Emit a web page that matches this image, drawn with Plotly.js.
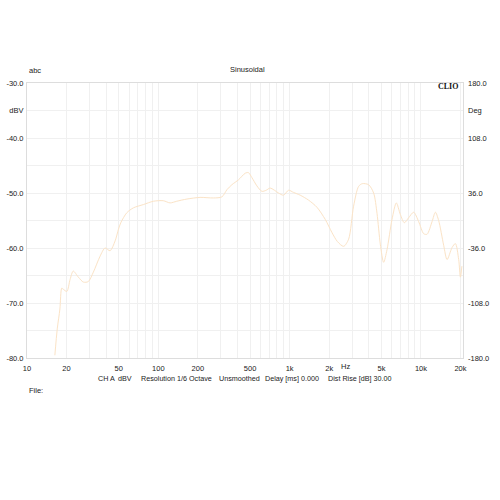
<!DOCTYPE html>
<html>
<head>
<meta charset="utf-8">
<script src="https://cdn.plot.ly/plotly-3.0.1.min.js"></script>
<style>html,body{margin:0;padding:0;background:#fff;}#chart{width:500px;height:500px;}</style>
</head>
<body>
<div id="chart"></div>
<script>
// Frequency response (Hz, dBV)
const freqHz = [16.3, 17.0, 17.8, 18.4, 18.9, 20.1, 21.3, 22.5, 24.6, 26.9, 29.3, 32.0, 36.0, 39.3, 42.9, 46.9, 49.7, 51.8, 57.5, 64.6, 77.0, 91.8, 109, 123, 138, 165, 208, 263, 305, 333, 363, 408, 459, 486, 516, 563, 615, 663, 711, 823, 899, 981, 1071, 1204, 1394, 1615, 1867, 2101, 2306, 2576, 2812, 3069, 3351, 3576, 3995, 4361, 4628, 4903, 5196, 5515, 6021, 6494, 6966, 7471, 8058, 8799, 9605, 10490, 11130, 12150, 12880, 13640, 14890, 15810, 17260, 18290, 19380, 19970, 20500];
const levelDbv = [-79.5, -74.7, -71.1, -67.3, -67.5, -67.9, -65.7, -64.2, -65.3, -66.2, -66.1, -64.4, -61.5, -60.0, -60.5, -58.7, -56.6, -55.4, -53.6, -52.7, -52.1, -51.5, -51.4, -51.8, -51.5, -51.1, -50.8, -50.9, -50.7, -49.4, -48.5, -47.6, -46.4, -46.3, -47.2, -48.7, -49.7, -49.5, -49.1, -50.0, -50.4, -49.5, -49.9, -50.4, -51.3, -52.6, -54.8, -57.2, -58.8, -59.7, -58.4, -52.4, -48.8, -48.3, -48.5, -50.0, -53.7, -59.3, -62.6, -60.3, -54.8, -51.8, -53.9, -55.4, -54.5, -53.5, -55.2, -57.4, -57.5, -55.2, -53.5, -55.0, -59.5, -62.1, -59.9, -59.2, -62.1, -65.3, -63.3];

// Axis ticks
const xGridVals = [10,20,30,40,50,60,70,80,90,100,200,300,400,500,600,700,800,900,1000,2000,3000,4000,5000,6000,7000,8000,9000,10000,20000];
const xLabeled = {10:'10',20:'20',50:'50',100:'100',200:'200',500:'500',1000:'1k',2000:'2k',5000:'5k',10000:'10k',20000:'20k'};
const yLeftVals = [-30,-35,-40,-45,-50,-55,-60,-65,-70,-75,-80];
const yLeftText = ['-30.0','dBV','-40.0','','-50.0','','-60.0','','-70.0','','-80.0'];
const yRightVals = [180,144,108,36,-36,-108,-180];
const yRightText = ['180.0','Deg','108.0','36.0','-36.0','-108.0','-180.0'];
const footerItems = ['CH A','dBV','Resolution 1/6 Octave','Unsmoothed','Delay [ms] 0.000','Dist Rise [dB] 30.00'];
const footerX = [96,116,139,217,263,326];

const FONT = 'Liberation Sans, Arial, sans-serif';
const TXT = '#222222';
const GRID = '#f0f0f0';

const W = 500, H = 500;
const L = 27, R = 37, T = 83, B = 142;
const px = x => (x - L) / (W - L - R);
const py = y => (H - B - y) / (H - T - B);

const annotations = [
  {text:'abc', xref:'paper', yref:'paper', x:px(27), y:py(71), xanchor:'left', yanchor:'middle', showarrow:false, font:{family:FONT,size:7.5,color:TXT}},
  {text:'Sinusoidal', xref:'paper', yref:'paper', x:px(247), y:py(70), xanchor:'center', yanchor:'middle', showarrow:false, font:{family:FONT,size:7.5,color:TXT}},
  {text:'<b>CLIO</b>', xref:'paper', yref:'paper', x:px(448), y:py(86.5), xanchor:'center', yanchor:'middle', showarrow:false, font:{family:'Liberation Serif, Times New Roman, serif',size:8,color:'#111'}},
  {text:'Hz', xref:'paper', yref:'paper', x:px(345), y:py(366.5), xanchor:'center', yanchor:'middle', showarrow:false, font:{family:FONT,size:7.5,color:TXT}},
  {text:'File:', xref:'paper', yref:'paper', x:px(27), y:py(390), xanchor:'left', yanchor:'middle', showarrow:false, font:{family:FONT,size:7.5,color:TXT}}
];
footerItems.forEach((t,i)=>{
  annotations.push({text:t, xref:'paper', yref:'paper', x:px(footerX[i]), y:py(378), xanchor:'left', yanchor:'middle', showarrow:false, font:{family:FONT,size:7.2,color:TXT}});
});

const traces = [
  {x:freqHz, y:levelDbv, type:'scatter', mode:'lines', line:{color:'#fbe3c6', width:1, shape:'spline', smoothing:0.8}, hoverinfo:'skip', showlegend:false},
  {x:[null], y:[null], yaxis:'y2', type:'scatter', mode:'lines', hoverinfo:'skip', showlegend:false}
];

const layout = {
  width:W, height:H,
  margin:{l:L, r:R, t:T, b:B, pad:0},
  paper_bgcolor:'#ffffff', plot_bgcolor:'#ffffff',
  font:{family:FONT, size:7.5, color:TXT},
  showlegend:false,
  xaxis:{type:'log', range:[1, Math.log10(20900)], tickmode:'array', tickvals:xGridVals,
         ticktext:xGridVals.map(v=>xLabeled[v]||''), showgrid:true, gridcolor:GRID, gridwidth:1,
         zeroline:false, showline:true, mirror:true, linecolor:'#dddddd', linewidth:1, ticks:'',
         tickfont:{family:FONT,size:7.5,color:TXT}, ticklabelstandoff:3, fixedrange:true},
  yaxis:{range:[-80,-30], tickmode:'array', tickvals:yLeftVals, ticktext:yLeftText,
         showgrid:true, gridcolor:GRID, gridwidth:1, zeroline:false, showline:true, mirror:true,
         linecolor:'#dddddd', linewidth:1, ticks:'', tickfont:{family:FONT,size:7.5,color:TXT}, ticklabelstandoff:1, fixedrange:true},
  yaxis2:{overlaying:'y', side:'right', range:[-180,180], tickmode:'array', tickvals:yRightVals, ticktext:yRightText,
          showgrid:false, zeroline:false, showline:false, ticks:'', tickfont:{family:FONT,size:7.5,color:TXT}, ticklabelstandoff:4, fixedrange:true},
  annotations:annotations
};

Plotly.newPlot('chart', traces, layout, {staticPlot:true, displayModeBar:false});
</script>
</body>
</html>
